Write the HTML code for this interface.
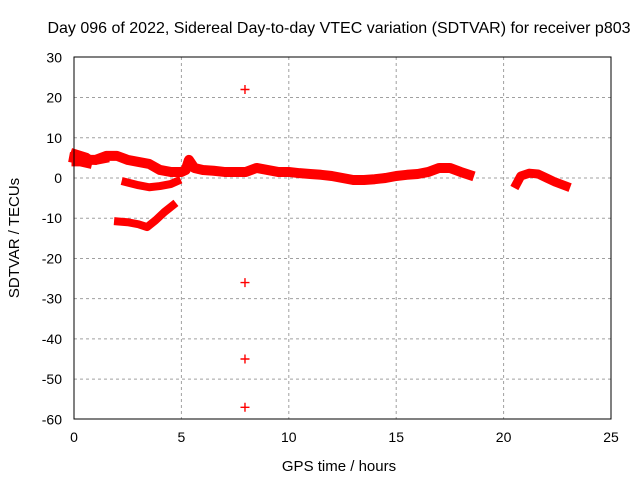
<!DOCTYPE html>
<html><head><meta charset="utf-8"><style>
body{margin:0;background:#fff}
svg{display:block;font-family:"Liberation Sans",sans-serif}
</style></head><body>
<svg id="chart" width="640" height="480">
<text x="339" y="33" font-size="16" text-anchor="middle">Day 096 of 2022, Sidereal Day-to-day VTEC variation (SDTVAR) for receiver p803</text>
<text x="339" y="471" font-size="15" text-anchor="middle">GPS time / hours</text>
<text transform="translate(19,238) rotate(-90)" font-size="15" text-anchor="middle">SDTVAR / TECUs</text>
<g id="grid"></g><g id="ticks"></g><g id="marks"></g>
<rect x="74" y="57" width="537" height="362" fill="none" stroke="#000"/>
</svg>
<script>
const xTicks=[0,5,10,15,20,25];
const yTicks=[30,20,10,0,-10,-20,-30,-40,-50,-60];
const trackAx=[0,0.5,1,1.5,2,2.5,3,3.5,4,4.5,5,5.2,5.35,5.6,6,6.5,7,7.5,8,8.5,9,9.5,10,10.5,11,11.5,12,12.5,13,13.5,14,14.5,15,15.5,16,16.5,17,17.5,18,18.4];
const trackAy=[5,4.5,4.5,5.5,5.5,4.5,4,3.5,2,1.5,1.5,2,4.5,2.5,2,1.8,1.5,1.5,1.5,2.5,2,1.5,1.5,1.2,1,0.8,0.5,0,-0.5,-0.5,-0.3,0,0.5,0.8,1,1.5,2.5,2.5,1.5,0.8];
const trackA2x=[0,0.3,0.6,1,1.5];
const trackA2y=[6.5,6,5.5,4,4.5];
const trackA3x=[0,0.3,0.7];
const trackA3y=[3.5,3.5,3];
const trackBx=[2.4,3,3.5,4,4.5,4.8];
const trackBy=[-1,-1.8,-2.3,-2,-1.5,-0.8];
const trackCx=[2.05,2.5,3,3.4,3.8,4.2,4.6];
const trackCy=[-10.8,-11,-11.5,-12.2,-10.5,-8.5,-6.8];
const trackDx=[20.6,20.8,21.2,21.6,22,22.4,22.9];
const trackDy=[-1.5,0.5,1.2,1,0,-1,-2];
const outlierX=[7.96,7.96,7.96,7.96];
const outlierY=[22,-26,-45,-57];
const X=v=>74+v*537/25, Y=v=>178-v*362/90;
const ns="http://www.w3.org/2000/svg";
const g=document.getElementById('grid'),t=document.getElementById('ticks'),m=document.getElementById('marks');
function el(tag,a,p){const e=document.createElementNS(ns,tag);for(const k in a)e.setAttribute(k,a[k]);p.appendChild(e);return e;}
xTicks.forEach(v=>{
 if(v>0&&v<25){const l=el('line',{x1:X(v),x2:X(v),y1:57,y2:419,stroke:'#a0a0a0','stroke-dasharray':'3,3'},g);
 
 }
 const tx=el('text',{x:X(v),y:442,'font-size':14,'text-anchor':'middle'},t);tx.textContent=v;
 
 
});
yTicks.forEach(v=>{
 if(v<30&&v>-60){const l=el('line',{x1:74,x2:611,y1:Y(v),y2:Y(v),stroke:'#a0a0a0','stroke-dasharray':'3,3'},g);
 
 }
 const tx=el('text',{x:62,y:Y(v)+5,'font-size':14,'text-anchor':'end'},t);tx.textContent=v;
 
 
});
function track(xs,ys,name,w){
 const pts=xs.map((x,i)=>X(x)+','+Y(ys[i])).join(' ');
 const p=el('polyline',{points:pts,fill:'none',stroke:'#f00','stroke-width':w,'stroke-linejoin':'round','stroke-linecap':'square'},m);
 
 
}
track(trackAx,trackAy,'series-main-track',10);
track(trackA2x,trackA2y,'series-main-track-upper',6);
track(trackA3x,trackA3y,'series-main-track-lower',5);
track(trackBx,trackBy,'series-track-b',8);
track(trackCx,trackCy,'series-track-c',8);
track(trackDx,trackDy,'series-track-d',9);
outlierX.forEach((x,i)=>{
 const cx=X(x),cy=Y(outlierY[i]);
 const p=el('path',{d:`M${cx-4.5},${cy}H${cx+4.5}M${cx},${cy-4.5}V${cy+4.5}`,stroke:'#f00','stroke-width':1.4},m);
 
 
});
</script>
</body></html>
